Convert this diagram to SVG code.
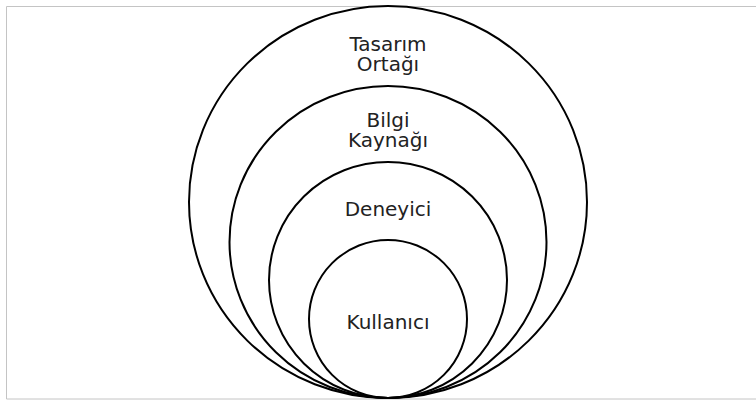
<svg xmlns="http://www.w3.org/2000/svg" width="756" height="403" viewBox="0 0 756 403">
<style>
.ring{fill:none;stroke:#000;stroke-width:2}
.lbl{font-family:"DejaVu Sans","Liberation Sans",sans-serif;font-size:20px;fill:#222;text-anchor:middle}
</style>
<rect width="756" height="403" fill="#fff"/>
<path d="M756 6.5H6.5V399H756" fill="none" stroke="#c4c4c4" stroke-width="1"/>
<g id="tasarim-ortagi">
<ellipse class="ring" cx="388" cy="202" rx="199" ry="196"/>
<text class="lbl" x="388" y="51">Tasarım</text>
<text class="lbl" x="388" y="71">Ortağı</text>
</g>
<g id="bilgi-kaynagi">
<ellipse class="ring" cx="388" cy="242" rx="158.5" ry="156"/>
<text class="lbl" x="388" y="127">Bilgi</text>
<text class="lbl" x="388" y="147">Kaynağı</text>
</g>
<g id="deneyici">
<ellipse class="ring" cx="388" cy="280" rx="119" ry="118"/>
<text class="lbl" x="388" y="216">Deneyici</text>
</g>
<g id="kullanici">
<ellipse class="ring" cx="388" cy="319" rx="79" ry="79"/>
<text class="lbl" x="388" y="329">Kullanıcı</text>
</g>
<g id="connectors"></g>
</svg>
